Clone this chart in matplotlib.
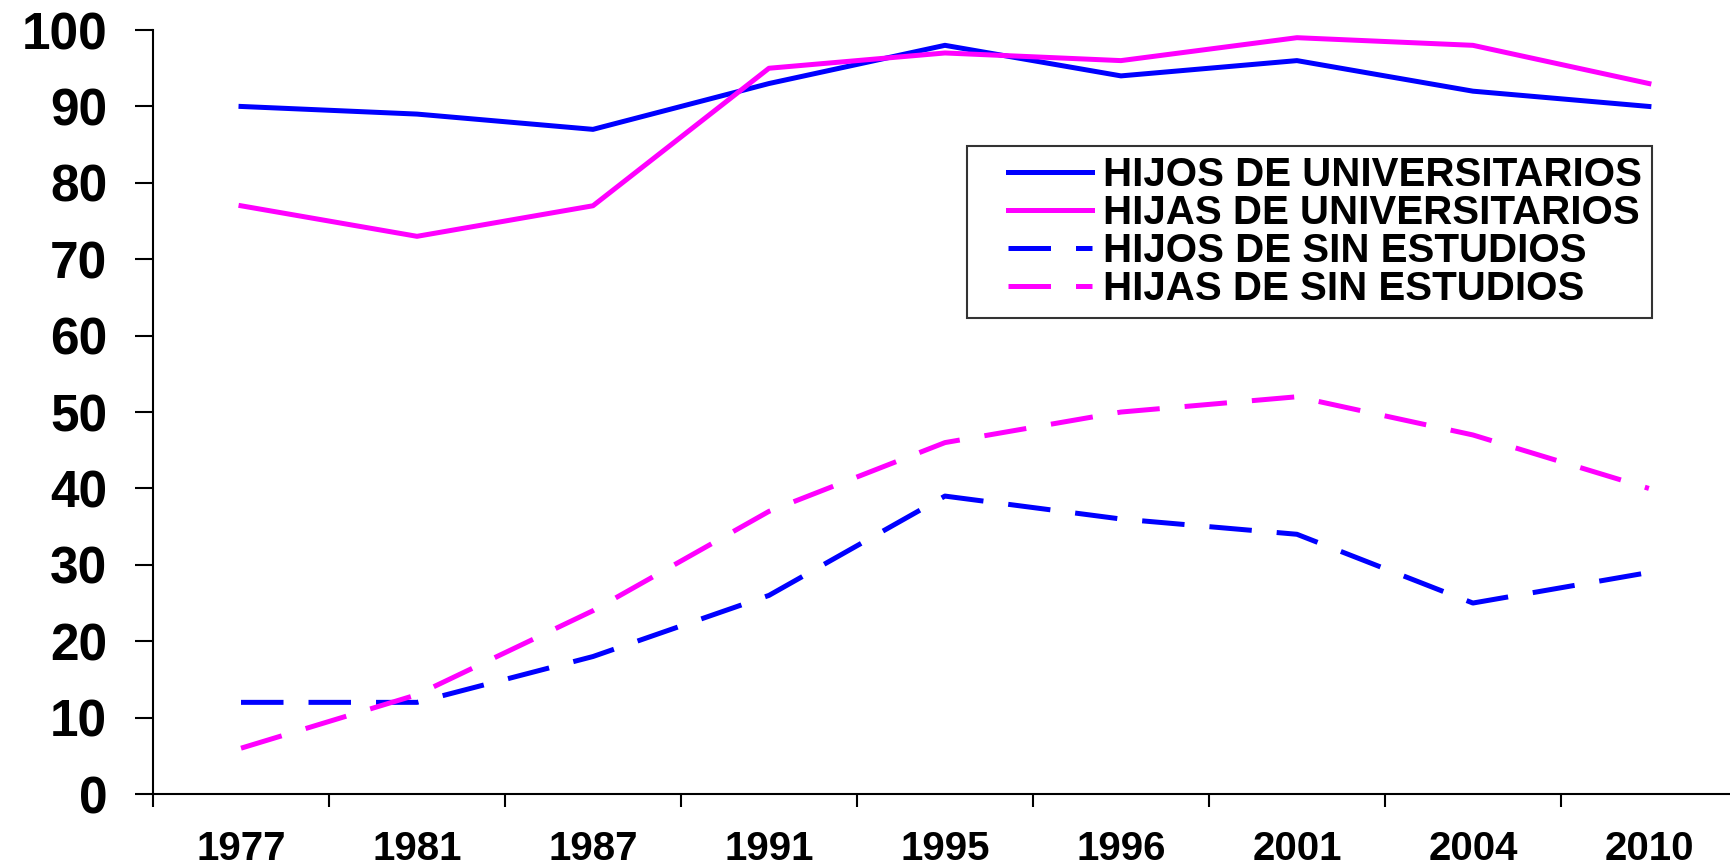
import matplotlib
matplotlib.use("Agg")
import matplotlib.pyplot as plt
from matplotlib.legend_handler import HandlerLine2D
import numpy as np

years = ["1977", "1981", "1987", "1991", "1995", "1996", "2001", "2004", "2010"]
hijos_univ = [90, 89, 87, 93, 98, 94, 96, 92, 90]
hijas_univ = [77, 73, 77, 95, 97, 96, 99, 98, 93]
hijos_sin = [12, 12, 18, 26, 39, 36, 34, 25, 29]
hijas_sin = [6, 13, 24, 37, 46, 50, 52, 47, 40]

blue = "#0000ff"
pink = "#ff00ff"
font = "Liberation Sans"


class ShiftedLine(HandlerLine2D):
    # legend line drawn only in the right part of the handle box
    shift = 22

    def create_artists(self, legend, orig_handle, xdescent, ydescent,
                       width, height, fontsize, trans):
        return super().create_artists(legend, orig_handle,
                                      xdescent - self.shift, ydescent,
                                      width - self.shift, height,
                                      fontsize, trans)


fig = plt.figure(figsize=(17.31, 8.66), dpi=100)
ax = fig.add_axes([0.0884, 0.0831, 0.915, 0.8822])

x = np.arange(len(years))
lw = 3.6
ax.plot(x, hijos_univ, color=blue, lw=lw, label="HIJOS DE UNIVERSITARIOS")
ax.plot(x, hijas_univ, color=pink, lw=lw, label="HIJAS DE UNIVERSITARIOS")
ax.plot(x, hijos_sin, color=blue, lw=lw, dashes=(8.5, 5), label="HIJOS DE SIN ESTUDIOS")
ax.plot(x, hijas_sin, color=pink, lw=lw, dashes=(8.5, 5), label="HIJAS DE SIN ESTUDIOS")

ax.set_xlim(-0.5, len(years) - 0.5)
ax.set_ylim(0, 100)

# ticks between categories, labels centred on categories
ax.set_xticks(np.arange(len(years) + 1) - 0.5)
ax.set_xticklabels([])
ax.set_xticks(x, minor=True)
ax.set_xticklabels(years, minor=True, fontsize=29, fontweight="bold", family=font)
ax.tick_params(axis="x", which="minor", length=0, pad=26)
ax.tick_params(axis="x", which="major", length=9, width=1.5, direction="out")

ax.set_yticks(np.arange(0, 101, 10))
ax.set_yticklabels([str(v) for v in range(0, 101, 10)], fontsize=37,
                   fontweight="bold", family=font)
ax.tick_params(axis="y", length=13, width=1.5, direction="out", pad=20)

for s in ["top", "right"]:
    ax.spines[s].set_visible(False)
for s in ["left", "bottom"]:
    ax.spines[s].set_linewidth(1.5)

leg = ax.legend(loc="upper left", bbox_to_anchor=(0.514, 0.848),
                prop={"family": font, "weight": "bold", "size": 29},
                frameon=True, fancybox=False, edgecolor="black",
                handlelength=2.85, handletextpad=0.28, labelspacing=0.0,
                borderpad=0.25, borderaxespad=0,
                handler_map={matplotlib.lines.Line2D: ShiftedLine()})
leg.get_frame().set_linewidth(1.5)

fig.savefig("out.png", dpi=100)
